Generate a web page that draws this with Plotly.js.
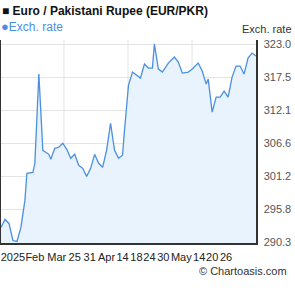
<!DOCTYPE html>
<html>
<head>
<meta charset="utf-8">
<script src="https://cdn.plot.ly/plotly-3.0.1.min.js"></script>
<style>html,body{margin:0;padding:0;background:#fff;}#chart{width:295px;height:288px;}</style>
</head>
<body>
<div id="chart"></div>
<script>
// Day index (from start of window) and EUR/PKR exchange rate
const days = [0,2,4,6,8,10,12,13,16,17,19,21,24,25,27,29,31,33,35,37,39,41,43,45,47,49,51,53,55,57,59,61,62,64,66,68,70,72,74,76,77,79,81,84,87,89,91,94,96,99,101,103,104,106,108,110,112,114,116,118,120,122,124,126,128];
const rates = [292.78,294.10,293.44,290.63,290.47,292.78,297.24,301.70,301.86,303.35,318.05,305.49,304.83,304.01,305.82,305.99,306.65,305.66,304.17,304.83,303.02,302.52,301.20,302.52,304.83,303.35,302.69,305.49,309.95,305.49,304.17,304.67,308.80,316.23,318.38,317.88,317.38,319.70,319.04,319.04,323.00,318.87,318.38,319.86,320.85,320.03,318.21,318.38,318.87,319.86,318.54,316.39,317.22,311.77,314.25,314.25,315.24,314.25,317.55,319.37,319.37,318.05,320.69,321.51,321.02];

// Axis labels
const xTickVals = [6,17,28,37,44.5,53,61,68,74.5,81.5,90.5,99.5,106,113];
const xTickText = ['2025','Feb','Mar','25','31','Apr','14','18','24','30','May','14','20','26'];
const yTickVals = [290.3,295.75,301.2,306.65,312.1,317.55,323.0];
const yTickText = ['290.3','295.8','301.2','306.6','312.1','317.5','323.0'];
const xGridDays = [31.6,63.75,95.9];

const trace = {
  x: days, y: rates, type: 'scatter', mode: 'lines',
  line: {color: '#4a8fe0', width: 1.3},
  fill: 'tozeroy', fillcolor: 'rgba(232,243,254,1)',
  hoverinfo: 'skip', showlegend: false
};

const shapes = xGridDays.map(d => ({
  type: 'line', xref: 'x', yref: 'paper', x0: d, x1: d, y0: 0, y1: 1,
  line: {color: '#e4e4e4', width: 1}, layer: 'below'
}));

const layout = {
  width: 295, height: 288,
  margin: {l: 1, r: 39, t: 40, b: 45, pad: 0},
  paper_bgcolor: '#fff', plot_bgcolor: '#fff',
  font: {family: 'Liberation Sans, Arial, sans-serif', size: 11, color: '#333'},
  title: {text: '<b>■ Euro / Pakistani Rupee (EUR/PKR)</b>', x: 2/295, xanchor: 'left', xref: 'container',
          y: 1 - 10.5/288, yanchor: 'middle', yref: 'container',
          font: {family: 'Liberation Sans, Arial, sans-serif', size: 12, color: '#111'}},
  showlegend: false,
  xaxis: {range: [0, 128], tickmode: 'array', tickvals: xTickVals, ticktext: xTickText, tickangle: 0,
          showgrid: false, zeroline: false, showline: true, linecolor: '#333', linewidth: 1.5,
          ticks: 'outside', ticklen: 3, tickcolor: 'rgba(0,0,0,0)', tickfont: {size: 11, color: '#222'}, fixedrange: true},
  yaxis: {range: [290.22, 323.66], side: 'right', tickmode: 'array', tickvals: yTickVals, ticktext: yTickText,
          showgrid: true, gridcolor: '#e4e4e4', gridwidth: 1, zeroline: false,
          showline: true, mirror: true, linecolor: '#333', linewidth: 1.5,
          ticks: 'outside', ticklen: 4, tickcolor: 'rgba(0,0,0,0)', tickfont: {size: 11, color: '#555'}, fixedrange: true},
  shapes: shapes,
  annotations: [
    {text: '<span style="font-size:13px">●</span>Exch. rate', xref: 'paper', yref: 'paper', x: -0.004, y: (243-26)/203, xanchor: 'left', yanchor: 'middle',
     showarrow: false, borderpad: 0, font: {size: 12, color: '#4a8fe0'}},
    {text: 'Exch. rate', xref: 'paper', yref: 'paper', x: (294-1)/255, y: (243-29)/203, xanchor: 'right', yanchor: 'middle',
     showarrow: false, font: {size: 11, color: '#333'}},
    {text: '© Chartoasis.com', xref: 'paper', yref: 'paper', x: (289-1)/255, y: (243-271)/203, xanchor: 'right', yanchor: 'middle',
     showarrow: false, font: {size: 11, color: '#333'}}
  ]
};

Plotly.newPlot('chart', [trace], layout, {staticPlot: true, displayModeBar: false});
</script>
</body>
</html>
